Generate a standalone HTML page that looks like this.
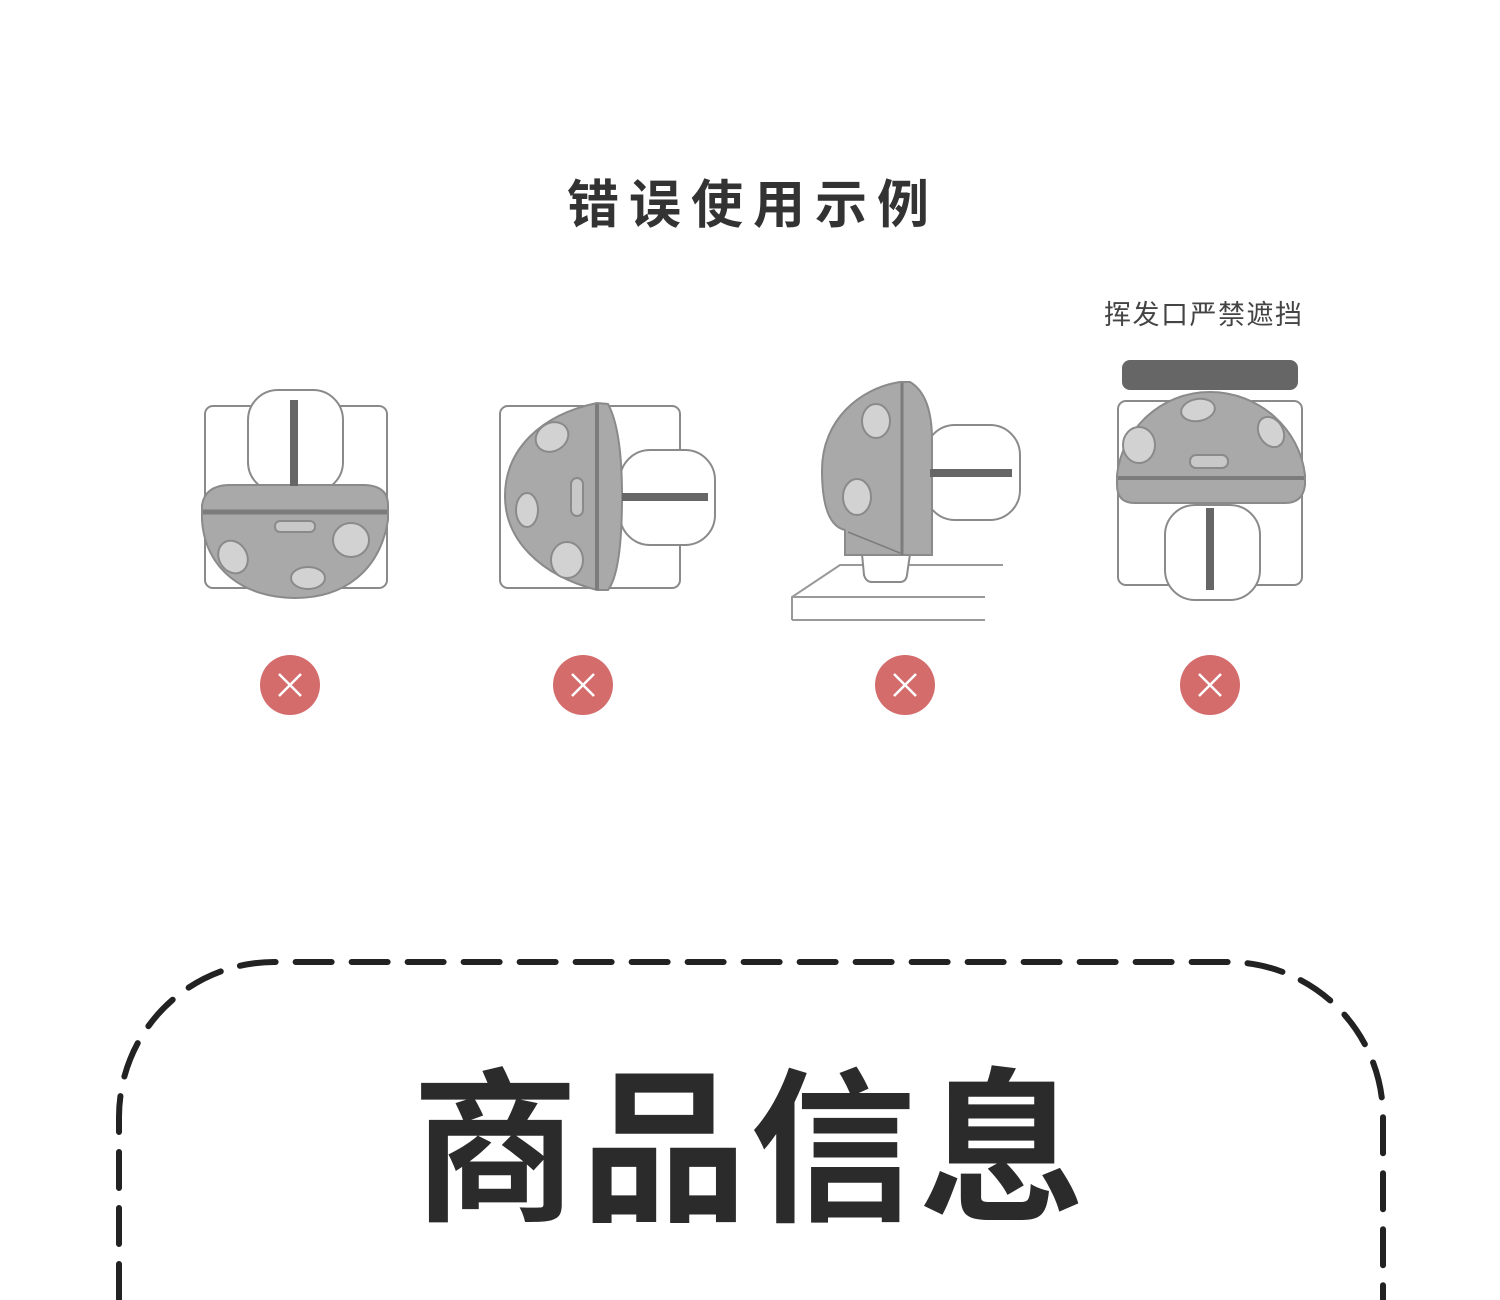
<!DOCTYPE html>
<html><head><meta charset="utf-8"><style>
html,body{margin:0;padding:0;background:#fff;}
body{width:1500px;height:1300px;overflow:hidden;position:relative;font-family:"Liberation Sans","Noto Sans CJK SC",sans-serif;}
.t{position:absolute;white-space:nowrap;}
</style></head><body>
<div class="t" style="left:567px;top:174px;font-size:52px;font-weight:bold;letter-spacing:10px;color:#333;line-height:64px;">错误使用示例</div>
<div class="t" style="left:1104px;top:298px;font-size:27px;letter-spacing:1.5px;color:#444;line-height:34px;">挥发口严禁遮挡</div>
<div class="t" style="left:412px;top:1052px;font-size:166px;font-weight:bold;letter-spacing:3px;color:#2b2b2b;line-height:200px;">商品信息</div>
<svg width="1500" height="1300" style="position:absolute;left:0;top:0" xmlns="http://www.w3.org/2000/svg">
<g fill="none" stroke="#8a8a8a" stroke-width="2">
<!-- fig1 -->
<rect x="205" y="406" width="182" height="182" rx="8" fill="#fff"/>
<rect x="248" y="390" width="95" height="102" rx="30" fill="#fff"/>
<path d="M202,505 Q205,486 228,485 L365,485 Q388,486 388,505 L388,520 C380,570 345,598 295,598 C245,598 205,570 202,520 Z" fill="#a9a9a9"/>
<line x1="203" y1="512" x2="387" y2="512" stroke="#7c7c7c" stroke-width="5"/>
<ellipse cx="233" cy="557" rx="14" ry="17" fill="#d2d2d2" transform="rotate(-30 233 557)"/>
<ellipse cx="351" cy="540" rx="18" ry="17" fill="#d2d2d2"/>
<ellipse cx="308" cy="578" rx="17" ry="11" fill="#d2d2d2"/>
<rect x="275" y="521" width="40" height="11" rx="5" fill="#c8c8c8"/>
<!-- fig2 -->
<rect x="500" y="406" width="180" height="182" rx="8" fill="#fff"/>
<rect x="620" y="450" width="95" height="95" rx="30" fill="#fff"/>
<path d="M597,403 L608,404 Q622,430 622,496 Q622,572 608,590 L597,590 C540,575 505,540 505,496 C505,450 540,415 597,403 Z" fill="#a9a9a9"/>
<line x1="597" y1="404" x2="597" y2="590" stroke="#7c7c7c" stroke-width="4"/>
<ellipse cx="552" cy="437" rx="17" ry="14" fill="#d2d2d2" transform="rotate(-30 552 437)"/>
<ellipse cx="527" cy="510" rx="11" ry="17" fill="#d2d2d2"/>
<ellipse cx="567" cy="560" rx="16" ry="18" fill="#d2d2d2"/>
<rect x="571" y="478" width="12" height="38" rx="6" fill="#c8c8c8"/>
<!-- fig3 -->
<path d="M792,620 L792,597 L840,565 L1003,565 M792,597 L985,597 M792,620 L985,620" stroke="#999"/>
<path d="M862,554 L864,575 Q866,582 872,582 L900,582 Q906,582 907,575 L910,554 Z" fill="#fff"/>
<rect x="925" y="425" width="95" height="95" rx="30" fill="#fff"/>
<path d="M900,382 L910,382 Q932,395 932,440 L932,555 L845,555 L845,530 Q822,525 822,470 C822,420 860,388 900,382 Z" fill="#a9a9a9"/>
<line x1="902" y1="383" x2="902" y2="555" stroke="#7c7c7c" stroke-width="3"/>
<line x1="848" y1="532" x2="900" y2="553" stroke="#7c7c7c" stroke-width="1.5"/>
<ellipse cx="876" cy="421" rx="14" ry="17" fill="#d2d2d2"/>
<ellipse cx="857" cy="497" rx="14" ry="18" fill="#d2d2d2"/>
<!-- fig4 -->
<rect x="1118" y="401" width="184" height="184" rx="8" fill="#fff"/>
<rect x="1165" y="505" width="95" height="95" rx="30" fill="#fff"/>
<path d="M1210,392 C1260,392 1300,430 1305,475 L1305,485 Q1303,503 1285,503 L1135,503 Q1117,503 1117,485 L1117,475 C1122,430 1160,392 1210,392 Z" fill="#a9a9a9"/>
<line x1="1118" y1="478" x2="1304" y2="478" stroke="#7c7c7c" stroke-width="4"/>
<ellipse cx="1198" cy="410" rx="17" ry="11" fill="#d2d2d2" transform="rotate(-10 1198 410)"/>
<ellipse cx="1271" cy="432" rx="12" ry="16" fill="#d2d2d2" transform="rotate(-30 1271 432)"/>
<ellipse cx="1139" cy="445" rx="16" ry="18" fill="#d2d2d2"/>
<rect x="1190" y="455" width="38" height="13" rx="6" fill="#c8c8c8"/>
</g>
<rect x="290" y="400" width="8" height="86" fill="#666"/>
<rect x="622" y="493" width="86" height="8" fill="#666"/>
<rect x="930" y="469" width="82" height="8" fill="#666"/>
<rect x="1206" y="508" width="8" height="82" fill="#666"/>
<rect x="1122" y="360" width="176" height="30" rx="8" fill="#666"/>
<g fill="#d46c6c">
<circle cx="290" cy="685" r="30"/><circle cx="583" cy="685" r="30"/><circle cx="905" cy="685" r="30"/><circle cx="1210" cy="685" r="30"/>
</g>
<g stroke="#fff" stroke-width="2.5">
<path d="M279,674 L301,696 M301,674 L279,696"/>
<path d="M572,674 L594,696 M594,674 L572,696"/>
<path d="M894,674 L916,696 M916,674 L894,696"/>
<path d="M1199,674 L1221,696 M1221,674 L1199,696"/>
</g>
<path d="M119,1300 L119,1117 A155,155 0 0 1 274,962 L1228,962 A155,155 0 0 1 1383,1117 L1383,1300" fill="none" stroke="#222" stroke-width="6" stroke-linecap="round" stroke-dasharray="36 20"/>
</svg>
</body></html>
